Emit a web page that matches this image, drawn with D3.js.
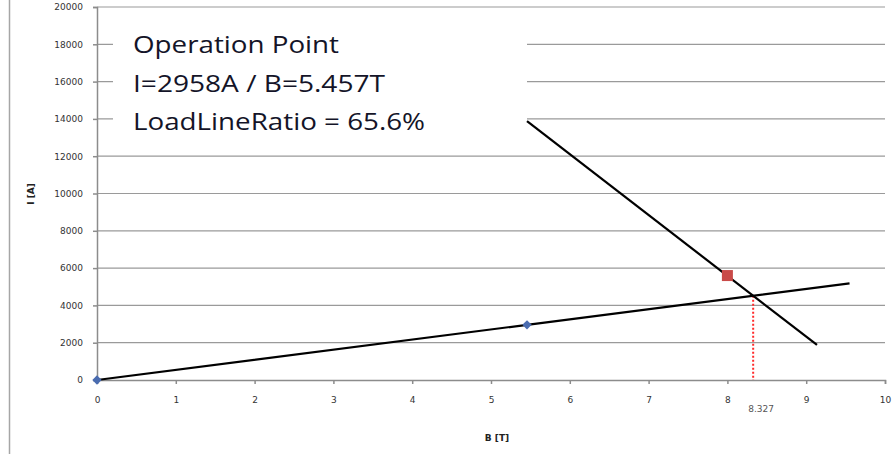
<!DOCTYPE html>
<html>
<head>
<meta charset="utf-8">
<script src="https://cdnjs.cloudflare.com/ajax/libs/d3/7.8.5/d3.min.js"></script>
<style>
  body { margin: 0; background: #fff; }
  svg { display: block; }
</style>
</head>
<body>
<div id="chart"></div>
<script>
// DATA
var yTicks      = [0, 2000, 4000, 6000, 8000, 10000, 12000, 14000, 16000, 18000, 20000];
var xTicks      = [0, 1, 2, 3, 4, 5, 6, 7, 8, 9, 10];
var loadLineB   = [0, 5.457, 9.55];
var loadLineI   = [0, 2958, 5180];
var opPointB    = [0, 5.457];
var opPointI    = [0, 2958];
var critLineB   = [5.457, 9.137];
var critLineI   = [13880, 1877];
var critPointB  = [8];
var critPointI  = [5600];
var crossB      = 8.327;
var crossI      = 4513;
var infoLines   = ['Operation Point', 'I=2958A / B=5.457T', 'LoadLineRatio = 65.6%'];

var width  = 894;
var height = 454;

var svg = d3.select('#chart')
  .append('svg')
  .attr('width', width)
  .attr('height', height);

// scales
var xScale = d3.scaleLinear().domain([0, 10]).range([97, 885]);
var yScale = d3.scaleLinear().domain([0, 20000]).range([380, 7]);

// outer border on the left
svg.append('line')
  .attr('x1', 9.5).attr('x2', 9.5)
  .attr('y1', 0).attr('y2', height)
  .attr('stroke', '#a6a6a6')
  .attr('stroke-width', 1.5);

// gridlines
svg.append('g')
  .selectAll('line')
  .data(yTicks.slice(1))
  .enter()
  .append('line')
  .attr('x1', xScale(0))
  .attr('x2', xScale(10))
  .attr('y1', function(d) { return yScale(d); })
  .attr('y2', function(d) { return yScale(d); })
  .attr('stroke', '#9a9a9a')
  .attr('stroke-width', 1.2);

// y axis
var yAxis = d3.axisLeft(yScale)
  .tickValues(yTicks)
  .tickSize(4)
  .tickPadding(10)
  .tickFormat(d3.format('d'));

var yGuide = svg.append('g')
  .attr('transform', 'translate(' + xScale(0) + ',0)')
  .call(yAxis);

// x axis
var xAxis = d3.axisBottom(xScale)
  .tickValues(xTicks)
  .tickSize(4)
  .tickPadding(13)
  .tickFormat(d3.format('d'));

var xGuide = svg.append('g')
  .attr('transform', 'translate(0,' + yScale(0) + ')')
  .call(xAxis);

[yGuide, xGuide].forEach(function(g) {
  g.select('.domain').attr('stroke', '#8c8c8c').attr('stroke-width', 1.5);
  g.selectAll('.tick line').attr('stroke', '#8c8c8c').attr('stroke-width', 1.5);
  g.selectAll('.tick text')
    .attr('fill', '#333')
    .style('font-family', 'DejaVu Sans, sans-serif')
    .style('font-size', '9px');
});

// text box covering the upper left
svg.append('rect')
  .attr('x', 113)
  .attr('y', 12)
  .attr('width', 414)
  .attr('height', 128)
  .attr('fill', '#fff');

var info = svg.append('g');
var infoWidths = [206, 252, 292];
info.selectAll('text')
  .data(infoLines)
  .enter()
  .append('text')
  .attr('x', 133)
  .attr('y', function(d, i) { return 53 + i * 38.5; })
  .attr('textLength', function(d, i) { return infoWidths[i]; })
  .attr('lengthAdjust', 'spacingAndGlyphs')
  .attr('fill', '#141428')
  .style('font-family', 'Open Sans, sans-serif')
  .style('font-size', '24px')
  .text(function(d) { return d; });

var line = d3.line()
  .x(function(d) { return xScale(d[0]); })
  .y(function(d) { return yScale(d[1]); });

// red dotted line down from the crossing
svg.append('line')
  .attr('x1', xScale(crossB)).attr('x2', xScale(crossB))
  .attr('y1', yScale(crossI)).attr('y2', yScale(0))
  .attr('stroke', '#ff2a2a')
  .attr('stroke-width', 2)
  .attr('stroke-dasharray', '2,2');

// load line
svg.append('path')
  .attr('d', line(d3.zip(loadLineB, loadLineI)))
  .attr('fill', 'none')
  .attr('stroke', '#000')
  .attr('stroke-width', 2.2);

// critical line
svg.append('path')
  .attr('d', line(d3.zip(critLineB, critLineI)))
  .attr('fill', 'none')
  .attr('stroke', '#000')
  .attr('stroke-width', 2.2);

// operation point markers (diamonds)
svg.append('g')
  .selectAll('path')
  .data(d3.zip(opPointB, opPointI))
  .enter()
  .append('path')
  .attr('transform', function(d) {
    return 'translate(' + xScale(d[0]) + ',' + yScale(d[1]) + ') rotate(45)';
  })
  .attr('d', 'M-3.3,-3.3h6.6v6.6h-6.6z')
  .attr('fill', '#4a6cb0');

// critical point marker (square)
svg.append('g')
  .selectAll('rect')
  .data(d3.zip(critPointB, critPointI))
  .enter()
  .append('rect')
  .attr('x', function(d) { return xScale(d[0]) - 5.5; })
  .attr('y', function(d) { return yScale(d[1]) - 5.5; })
  .attr('width', 11)
  .attr('height', 11)
  .attr('fill', '#c94a48');

// crossing value label
svg.append('text')
  .attr('x', xScale(crossB) + 8)
  .attr('y', 412)
  .attr('text-anchor', 'middle')
  .attr('fill', '#555')
  .style('font-family', 'DejaVu Sans, sans-serif')
  .style('font-size', '9px')
  .text(crossB);

// axis titles
svg.append('text')
  .attr('x', 497)
  .attr('y', 441)
  .attr('text-anchor', 'middle')
  .attr('fill', '#222')
  .style('font-family', 'DejaVu Sans, sans-serif')
  .style('font-size', '9px')
  .style('font-weight', 'bold')
  .text('B [T]');

svg.append('text')
  .attr('transform', 'translate(34,194) rotate(-90)')
  .attr('text-anchor', 'middle')
  .attr('fill', '#222')
  .style('font-family', 'DejaVu Sans, sans-serif')
  .style('font-size', '9px')
  .style('font-weight', 'bold')
  .text('I [A]');
</script>
</body>
</html>
